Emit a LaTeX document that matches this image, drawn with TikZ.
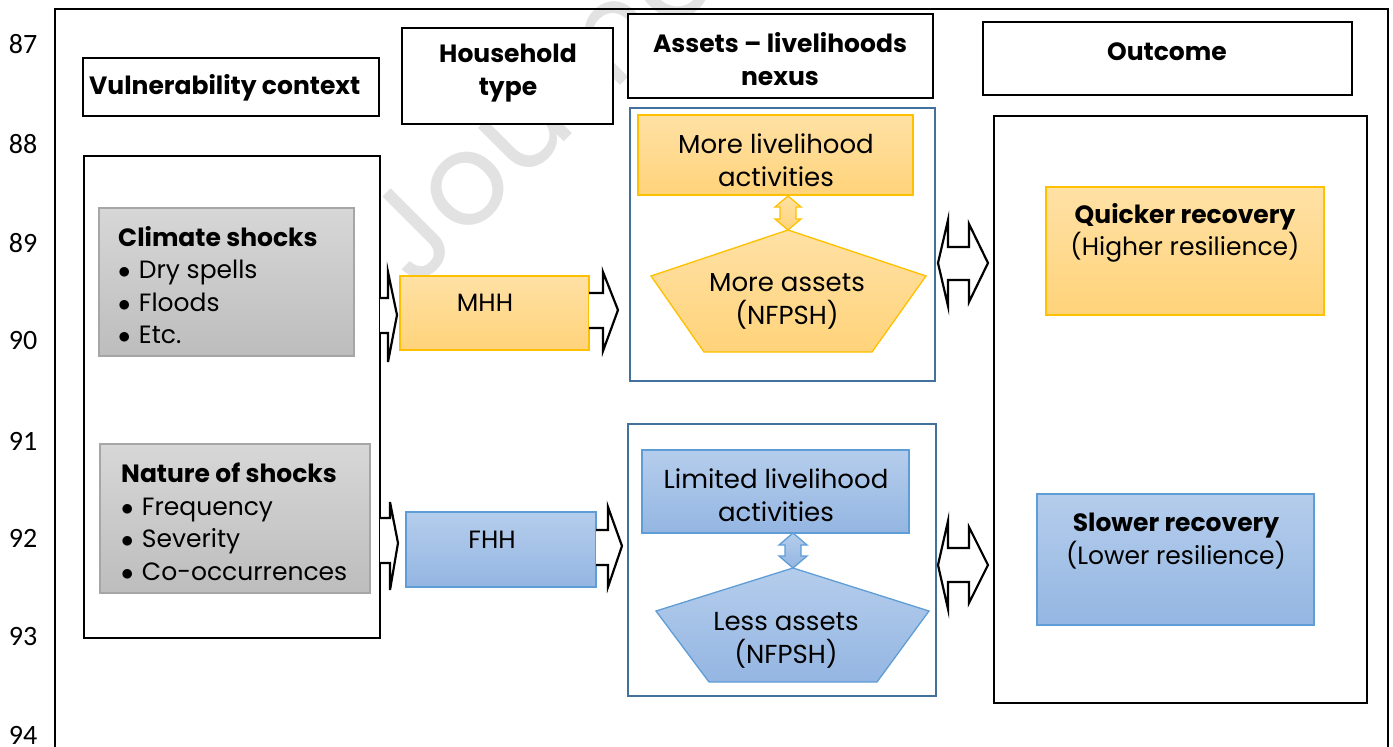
\documentclass[tikz,border=0pt]{standalone}
\usepackage{fontspec}
\setmainfont{Poppins}
\newfontfamily\numfont{Carlito}
\definecolor{yTop}{RGB}{255,225,165}
\definecolor{yBot}{RGB}{255,211,122}
\definecolor{yBrd}{RGB}{255,192,0}
\definecolor{bTop}{RGB}{181,205,236}
\definecolor{bBot}{RGB}{148,182,226}
\definecolor{bBrd}{RGB}{95,157,214}
\definecolor{gTop}{RGB}{215,215,215}
\definecolor{gBot}{RGB}{189,189,189}
\definecolor{gBrd}{RGB}{166,166,166}
\definecolor{frameblue}{RGB}{65,113,156}
\definecolor{wmark}{RGB}{226,226,226}
\newcommand\bodyf{\fontsize{25}{32.5}\selectfont}
\newcommand\nexusf{\fontsize{26}{33}\selectfont}
\newcommand\hdrf{\fontsize{25}{33}\selectfont\bfseries}
\begin{document}
\begin{tikzpicture}[x=1pt,y=-1pt,
  hdrbox/.style={draw=black, line width=2.6pt, fill=white, inner sep=0pt},
  bigbox/.style={draw=black, line width=2.4pt, inner sep=0pt},
  nexusbox/.style={draw=frameblue, line width=2.2pt, inner sep=0pt},
  ybox/.style={draw=yBrd, line width=1.3pt, top color=yTop, bottom color=yBot, inner sep=0pt},
  bbox/.style={draw=bBrd, line width=1.3pt, top color=bTop, bottom color=bBot, inner sep=0pt},
  gbox/.style={draw=gBrd, line width=1.3pt, top color=gTop, bottom color=gBot, inner sep=0pt},
  hdrtext/.style={font=\hdrf, align=center, inner sep=0pt},
  bodytext/.style={font=\bodyf, align=center, inner sep=0pt},
  nexustext/.style={font=\nexusf, align=center, inner sep=0pt},
  linenum/.style={font=\numfont\fontsize{28}{28}\selectfont, inner sep=0pt},
  blockarrow/.style={draw=black, line width=2.2pt, fill=white, line join=miter},
]
\useasboundingbox (0,0) rectangle (1393,747);
% watermark
\node[rotate=45, text=wmark, font=\fontsize{128}{128}\selectfont, inner sep=0pt] (wm) at (552,88) {Journal};

% line numbers
\node[linenum] (n87) at (23,44) {87};
\node[linenum] (n88) at (23,144) {88};
\node[linenum] (n89) at (23,243) {89};
\node[linenum] (n90) at (23,341) {90};
\node[linenum] (n91) at (23,441) {91};
\node[linenum] (n92) at (23,538) {92};
\node[linenum] (n93) at (23,637) {93};
\node[linenum] (n94) at (23,735) {94};

% outer frame
\draw[line width=2.4pt] (55,760) -- (55,9) -- (1388,9) -- (1388,760);

% headers
\node[hdrbox, minimum width=296pt, minimum height=58pt] (vch) at (231,87) {};
\node[hdrtext, anchor=west] (vcht) at (89,88) {Vulnerability context};
\node[hdrbox, minimum width=211pt, minimum height=96pt] (hth) at (507.5,76) {};
\node[hdrtext] (htht) at (508,73.5) {Household\\type};
\node[hdrbox, minimum width=305pt, minimum height=84pt] (anh) at (780.5,56) {};
\node[hdrtext] (anht) at (780,59) {Assets -- livelihoods\\nexus};
\node[hdrbox, minimum width=369pt, minimum height=73pt] (outh) at (1167.5,58.5) {};
\node[hdrtext] (outht) at (1167,52) {Outcome};

% vulnerability context
\node[bigbox, minimum width=296pt, minimum height=482pt] (vc) at (232,397) {};
\node[gbox, minimum width=255pt, minimum height=148pt] (cs) at (226.5,282) {};
\node[bodytext, align=left, anchor=west] (cst) at (118,285) {\textbf{Climate shocks}\\$\bullet$\,\,Dry spells\\$\bullet$\,\,Floods\\$\bullet$\,\,Etc.};
\node[gbox, minimum width=270pt, minimum height=149pt] (ns) at (235,518.5) {};
\node[bodytext, align=left, anchor=west] (nst) at (121,522) {\textbf{Nature of shocks}\\$\bullet$\,\,Frequency\\$\bullet$\,\,Severity\\$\bullet$\,\,Co-occurrences};

% household type
\node[ybox, minimum width=189pt, minimum height=74pt] (mhh) at (494.5,313) {};
\node[bodytext] (mhht) at (485,303) {MHH};
\node[bbox, minimum width=190pt, minimum height=75pt] (fhh) at (501,549.5) {};
\node[bodytext] (fhht) at (492,540) {FHH};

% nexus top
\node[nexusbox, minimum width=305pt, minimum height=273pt] (nx1) at (782.5,244.5) {};
\node[ybox, minimum width=275pt, minimum height=80pt] (mla) at (775.5,155) {};
\node[nexustext] (mlat) at (776,160) {More livelihood\\activities};
\path[ybox] (788,230) -- (926,276) -- (872,352) -- (704,352) -- (651,276) -- cycle;
\node[nexustext] (mat) at (787,301) {More assets\\(NFPSH)};
\coordinate (ma) at (788,230);
\path[ybox] (788,196) -- (801,207) -- (796,207) -- (796,219) -- (801,219) -- (ma)
  -- (775,219) -- (780,219) -- (780,207) -- (775,207) -- cycle;

% nexus bottom
\node[nexusbox, minimum width=308pt, minimum height=272pt] (nx2) at (782,560) {};
\node[bbox, minimum width=267pt, minimum height=83pt] (lla) at (775.5,491.5) {};
\node[nexustext] (llat) at (776,495) {Limited livelihood\\activities};
\path[bbox] (793,568) -- (929,611) -- (877,682) -- (709,682) -- (656,611) -- cycle;
\node[nexustext] (lat) at (786,640) {Less assets\\(NFPSH)};
\coordinate (la) at (793,568);
\path[bbox] (793,533) -- (807,545) -- (801,545) -- (801,556) -- (807,556) -- (la)
  -- (779,556) -- (785,556) -- (785,545) -- (779,545) -- cycle;

% outcome
\node[bigbox, minimum width=373pt, minimum height=587pt] (oc) at (1180.5,409.5) {};
\node[ybox, minimum width=278pt, minimum height=128pt] (qr) at (1185,251) {};
\node[bodytext] (qrt) at (1185,233) {\textbf{Quicker recovery}\\(Higher resilience)};
\node[bbox, minimum width=277pt, minimum height=131pt] (sr) at (1175.5,559.5) {};
\node[bodytext] (srt) at (1176,541) {\textbf{Slower recovery}\\(Lower resilience)};

% block arrows
\draw[blockarrow] (380,298) -- (388,298) -- (388,272) -- (397,315) -- (388,362) -- (388,333) -- (380,333);
\draw[blockarrow] (380,518) -- (390,518) -- (390,502) -- (398,543) -- (390,590) -- (390,563) -- (380,563);
\draw[blockarrow] (589,293) -- (603,293) -- (603,272) -- (618,310) -- (603,351) -- (603,328) -- (589,328);
\draw[blockarrow] (596,530) -- (608,530) -- (608,507) -- (622,546) -- (608,587) -- (608,565) -- (596,565);
\draw[blockarrow] (938,263) -- (948,220) -- (948,247) -- (969,247) -- (969,224) -- (988,263)
  -- (969,302) -- (969,280) -- (948,280) -- (948,306) -- cycle;
\draw[blockarrow] (938,565) -- (948,521) -- (948,548) -- (969,548) -- (969,527) -- (988,565)
  -- (969,603) -- (969,582) -- (948,582) -- (948,609) -- cycle;
\end{tikzpicture}
\end{document}
